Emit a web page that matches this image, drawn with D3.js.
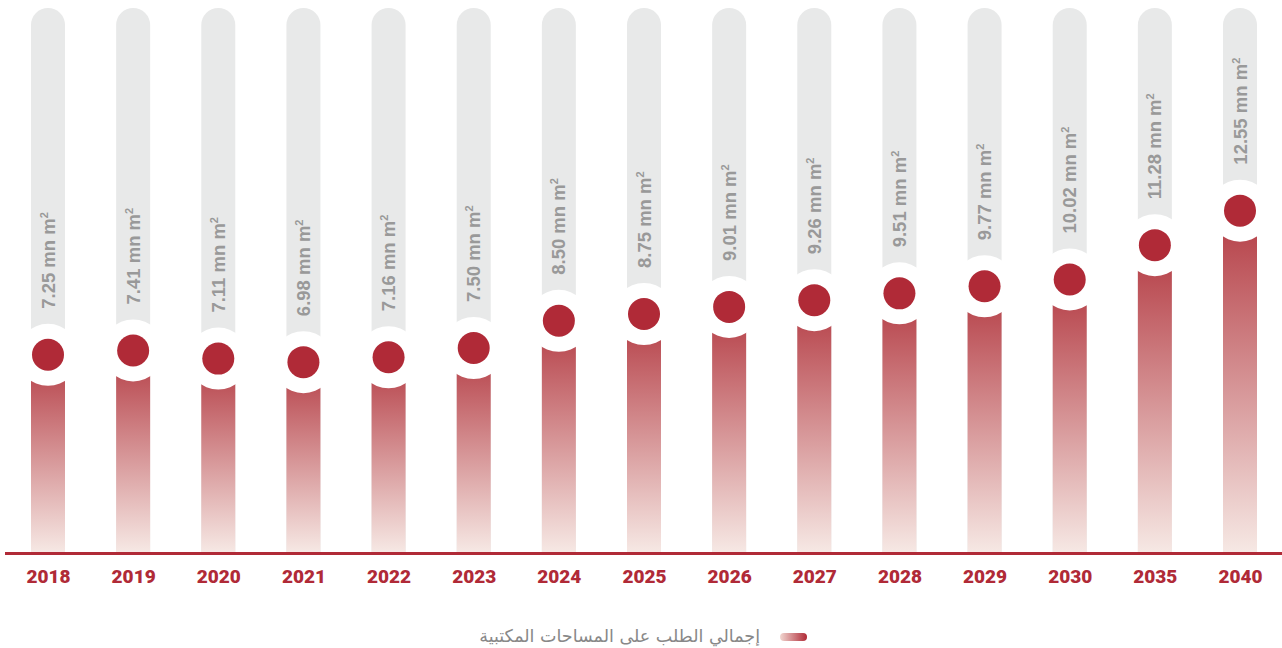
<!DOCTYPE html>
<html><head><meta charset="utf-8">
<script src="https://cdn.jsdelivr.net/npm/d3@7"></script>
<style>body{margin:0;background:#fff;}svg{display:block;}</style>
</head><body>
<svg id="c" width="1282" height="648"></svg>
<script>
const categories = ["2018","2019","2020","2021","2022","2023","2024","2025","2026","2027","2028","2029","2030","2035","2040"];
const values = [7.25,7.41,7.11,6.98,7.16,7.50,8.50,8.75,9.01,9.26,9.51,9.77,10.02,11.28,12.55];
const valueLabels = ["7.25","7.41","7.11","6.98","7.16","7.50","8.50","8.75","9.01","9.26","9.51","9.77","10.02","11.28","12.55"];
const unitLabel = " mn m";
const legendLabel = "إجمالي الطلب على المساحات المكتبية";

const svg = d3.select("#c");
const red = "#b02a37";
const x = d3.scalePoint().domain(categories).range([48, 1240]);
const y = d3.scaleLinear().domain([0, 20]).range([552, 8]);
const bw = 34;

const defs = svg.append("defs");
const g1 = defs.append("linearGradient").attr("id","barGrad").attr("x1",0).attr("y1",0).attr("x2",0).attr("y2",1);
g1.append("stop").attr("offset","0%").attr("stop-color","#b43c44");
g1.append("stop").attr("offset","100%").attr("stop-color","#f6e8e4");
const g2 = defs.append("linearGradient").attr("id","legGrad").attr("x1",0).attr("y1",0).attr("x2",1).attr("y2",0);
g2.append("stop").attr("offset","0%").attr("stop-color","#f1d6d0");
g2.append("stop").attr("offset","100%").attr("stop-color","#b02a37");

const data = categories.map((c,i)=>({c, v:values[i], l:valueLabels[i]}));

const colTop = y(20), base = y(0), rr = bw/2;
svg.append("g").selectAll("path").data(data).join("path")
  .attr("fill","#e8e9e9")
  .attr("d", d => {
    const x0 = x(d.c) - rr, x1 = x(d.c) + rr;
    return `M${x0},${base} L${x0},${colTop+rr} A${rr},${rr} 0 0 1 ${x1},${colTop+rr} L${x1},${base} Z`;
  });

svg.append("g").selectAll("rect").data(data).join("rect")
  .attr("x", d => x(d.c) - rr).attr("width", bw)
  .attr("y", d => y(d.v)).attr("height", d => base - y(d.v))
  .attr("fill","url(#barGrad)");

svg.append("g").selectAll("circle").data(data).join("circle")
  .attr("cx", d => x(d.c)).attr("cy", d => y(d.v)).attr("r", 31).attr("fill","#fff");
svg.append("g").selectAll("circle").data(data).join("circle")
  .attr("cx", d => x(d.c)).attr("cy", d => y(d.v)).attr("r", 16).attr("fill", red);

const lab = svg.append("g").selectAll("text").data(data).join("text")
  .attr("transform", d => `translate(${x(d.c)+6.5},${y(d.v)-46}) rotate(-90)`)
  .attr("fill","#999999").attr("font-family","'Liberation Sans', Arial, sans-serif")
  .attr("font-weight","bold").attr("font-size",18.5);
lab.append("tspan").text(d => d.l + unitLabel);
lab.append("tspan").text("2").attr("font-size",11).attr("dy",-7);

svg.append("line").attr("x1",5).attr("x2",1282).attr("y1",553.5).attr("y2",553.5)
  .attr("stroke",red).attr("stroke-width",3);

const xAxis = d3.axisBottom(x).tickSize(0).tickPadding(0);
const ax = svg.append("g").attr("transform","translate(0,568)").call(xAxis);
ax.select(".domain").remove();
ax.selectAll("text").attr("fill",red).attr("font-family","Roboto, sans-serif")
  .attr("font-weight","900").attr("font-size",19).attr("dy","0.78em");

svg.append("rect").attr("x",780).attr("y",633).attr("width",27).attr("height",8).attr("rx",4)
  .attr("fill","url(#legGrad)");
svg.append("text").attr("x",760).attr("y",642).attr("text-anchor","end")
  .attr("fill","#888888").attr("font-family","'DejaVu Sans', sans-serif").attr("font-size",17.5)
  .text(legendLabel);
</script>
</body></html>
